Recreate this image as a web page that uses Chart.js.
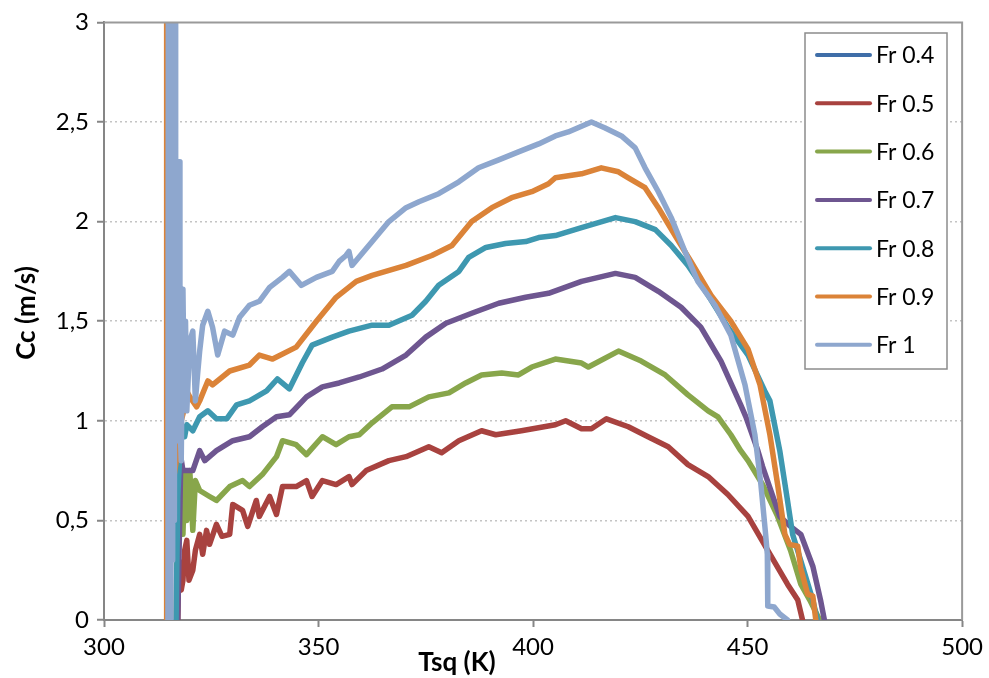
<!DOCTYPE html>
<html>
<head>
<meta charset="utf-8">
<script src="https://cdn.jsdelivr.net/npm/chart.js@4.4.1/dist/chart.umd.min.js"></script>
<style>
  html, body { margin: 0; padding: 0; background: #fff; }
  #wrap { width: 989px; height: 678px; }
</style>
</head>
<body>
<div id="wrap"><canvas id="cc" width="989" height="678"></canvas></div>
<script>
// Series labels and colours (Excel 2007 palette)
const seriesNames = ['Fr 0.4', 'Fr 0.5', 'Fr 0.6', 'Fr 0.7', 'Fr 0.8', 'Fr 0.9', 'Fr 1'];
const seriesColors = ['#3F6EA8', '#A8423F', '#88A64B', '#6E5690', '#3E98B0', '#DB8338', '#8EA7CE'];

// x tick labels / y tick labels
const xTicks = [300, 350, 400, 450, 500];
const yTicks = [0, 0.5, 1, 1.5, 2, 2.5, 3];

// [Tsq (K), Cc (m/s)]
const fr04 = [];

const fr05 = [[317.2,0],[317.4,0.3],[318.0,0.15],[318.4,0.2],[318.8,0.35],[319.3,0.4],[319.8,0.2],[320.7,0.25],
  [321.3,0.35],[322.3,0.43],[323.0,0.33],[323.9,0.45],[324.6,0.38],[326.2,0.48],[327.5,0.42],[329.3,0.43],
  [330.0,0.58],[332.3,0.55],[333.5,0.47],[335.5,0.6],[336.2,0.52],[338.6,0.62],[340.2,0.53],
  [341.6,0.67],[344.8,0.67],[347.2,0.7],[348.5,0.62],[350.9,0.7],[354.1,0.68],[357.1,0.72],[357.8,0.68],
  [361.1,0.75],[366.4,0.8],[370.4,0.82],[375.7,0.87],[378.7,0.84],[382.7,0.9],[388.0,0.95],[391.3,0.93],
  [397.3,0.95],[405.2,0.98],[407.6,1.0],[411.3,0.96],[413.6,0.96],[417.1,1.01],[422.2,0.97],[426.8,0.92],
  [431.5,0.87],[436.1,0.78],[440.8,0.72],[445.4,0.63],[450.1,0.52],[454.7,0.35],[459.3,0.18],[461.7,0.1],[462.8,0]];

const fr06 = [[316.8,0],[317.2,0.6],[317.5,0.45],[317.9,0.72],[318.4,0.43],[318.8,0.73],[319.3,0.5],[320.0,0.75],
  [320.7,0.45],[321.3,0.7],[322.3,0.65],[324.6,0.62],[326.2,0.6],[329.3,0.67],[332.3,0.7],[333.9,0.67],
  [336.9,0.73],[340.2,0.82],[341.6,0.9],[344.8,0.88],[347.2,0.83],[350.9,0.92],[354.1,0.88],[357.1,0.92],
  [359.5,0.93],[362.5,0.99],[367.1,1.07],[371.1,1.07],[375.7,1.12],[380.4,1.14],[384.3,1.19],[388.0,1.23],
  [392.7,1.24],[396.6,1.23],[399.7,1.27],[405.2,1.31],[411.3,1.29],[412.9,1.27],[419.9,1.35],[425.2,1.3],
  [430.8,1.23],[436.1,1.13],[440.8,1.05],[443.1,1.02],[446.1,0.93],[448.4,0.85],[450.1,0.8],[453.5,0.68],
  [457.0,0.52],[460.0,0.35],[462.4,0.18],[464.5,0.1],[466.8,0]];

const fr07 = [[317.2,0],[317.7,0.57],[317.9,0.82],[318.4,0.75],[320.7,0.75],[322.3,0.85],[323.5,0.8],[326.2,0.85],
  [330.0,0.9],[333.9,0.92],[336.9,0.97],[340.2,1.02],[343.2,1.03],[347.2,1.12],[350.9,1.17],[354.8,1.19],
  [359.5,1.22],[364.8,1.26],[370.4,1.33],[375.0,1.42],[379.7,1.49],[385.7,1.54],[392.0,1.59],[398.3,1.62],
  [403.6,1.64],[411.3,1.7],[419.2,1.74],[423.8,1.72],[429.2,1.65],[434.5,1.57],[439.1,1.47],[443.8,1.3],
  [448.4,1.08],[449.6,1.02],[452.4,0.85],[453.5,0.77],[457.5,0.52],[460.0,0.47],[462.4,0.43],[465.2,0.27],
  [467.0,0.1],[467.9,0]];

const fr08 = [[316.8,0],[317.2,0.62],[317.7,0.85],[318.4,0.97],[318.8,0.92],[319.3,0.98],[320.7,0.95],[322.3,1.02],
  [324.2,1.05],[326.2,1.01],[328.6,1.01],[330.9,1.08],[333.9,1.1],[337.9,1.15],[340.4,1.21],[343.2,1.16],
  [346.2,1.29],[348.5,1.38],[353.2,1.42],[357.1,1.45],[362.5,1.48],[366.4,1.48],[371.8,1.53],[375.0,1.6],
  [378.0,1.68],[382.7,1.75],[385.0,1.82],[389.0,1.87],[393.6,1.89],[398.3,1.9],[401.3,1.92],[405.2,1.93],
  [411.3,1.97],[419.2,2.02],[423.8,2.0],[428.5,1.96],[432.2,1.88],[436.1,1.78],[440.8,1.63],[445.4,1.47],
  [450.1,1.33],[454.0,1.15],[455.2,1.1],[457.5,0.85],[459.3,0.6],[460.5,0.43],[462.8,0.27],[465.2,0.1],[466.3,0]];

const fr09 = [[314.6,0],[314.6,3.2],[314.8,0.5],[317.2,0.85],[318.0,1.0],[318.6,1.05],[319.3,1.15],[320.0,1.12],
  [321.6,1.07],[322.3,1.1],[324.2,1.2],[325.3,1.18],[329.3,1.25],[333.9,1.28],[336.2,1.33],[339.3,1.31],
  [344.8,1.37],[349.5,1.5],[354.1,1.62],[358.8,1.7],[362.5,1.73],[370.4,1.78],[376.4,1.83],[381.1,1.88],
  [385.7,2.0],[390.4,2.07],[395.0,2.12],[399.7,2.15],[403.6,2.19],[405.2,2.22],[411.3,2.24],[415.9,2.27],
  [419.9,2.25],[422.2,2.22],[426.1,2.17],[429.2,2.07],[433.1,1.93],[436.8,1.8],[441.5,1.63],[446.1,1.5],
  [450.1,1.36],[452.9,1.18],[455.2,0.93],[457.0,0.68],[458.7,0.43],[459.8,0.38],[461.7,0.37],[462.4,0.26],
  [464.0,0.13],[465.2,0.12],[465.9,0]];

const fr10 = [[314.9,0],[315.0,3.3],[315.2,0],[315.4,3.3],[315.6,0],[315.8,3.3],[316.0,0.3],[316.2,3.3],
  [316.4,0.5],[316.6,3.3],[316.7,2.3],[317.0,0.9],[317.2,2.3],[317.5,2.3],[317.7,1.0],[318.0,0.8],
  [318.4,1.66],[318.7,1.1],[319.0,1.5],[319.3,1.05],[320.0,1.4],
  [320.7,1.45],[321.3,1.1],[321.8,1.23],[322.3,1.35],[323.0,1.48],[324.2,1.55],[325.3,1.47],[326.5,1.33],
  [328.1,1.45],[330.0,1.43],[331.6,1.52],[333.9,1.58],[336.2,1.6],[338.6,1.67],[341.6,1.72],[343.2,1.75],
  [346.0,1.68],[349.5,1.72],[353.2,1.75],[354.8,1.8],[356.4,1.83],[357.1,1.85],[357.8,1.78],[362.5,1.9],
  [366.4,2.0],[370.4,2.07],[373.4,2.1],[378.0,2.14],[382.7,2.2],[387.3,2.27],[392.0,2.31],[396.6,2.35],
  [401.3,2.39],[405.2,2.43],[408.2,2.45],[413.6,2.5],[416.8,2.47],[420.6,2.43],[423.8,2.37],[426.1,2.27],
  [429.2,2.15],[432.2,2.02],[435.4,1.85],[438.4,1.7],[442.4,1.58],[446.1,1.43],[449.4,1.18],[451.7,0.93],
  [453.1,0.68],[454.2,0.43],[454.6,0.33],[454.7,0.07],[456.2,0.065],[457.5,0.03],[459.3,0]];

const allSeries = [fr04, fr05, fr06, fr07, fr08, fr09, fr10];

const FONT = 'Lato, "Open Sans", sans-serif';

// legend box and axis titles drawn by hand, Excel-style
const excelBits = {
  id: 'excelBits',
  afterDraw(chart) {
    const ctx = chart.ctx;
    const a = chart.chartArea;
    ctx.save();
    // top / right frame of the plot area
    ctx.strokeStyle = '#9a9a9a';
    ctx.lineWidth = 2;
    ctx.beginPath();
    ctx.moveTo(a.left, a.top);
    ctx.lineTo(a.right, a.top);
    ctx.lineTo(a.right, a.bottom);
    ctx.stroke();

    // legend
    const bx = 805, by = 33, bw = 142, bh = 336;
    ctx.fillStyle = '#fff';
    ctx.fillRect(bx, by, bw, bh);
    ctx.strokeStyle = '#8c8c8c';
    ctx.lineWidth = 1.5;
    ctx.strokeRect(bx, by, bw, bh);
    ctx.font = '23px ' + FONT;
    ctx.textBaseline = 'middle';
    ctx.textAlign = 'left';
    seriesNames.forEach((name, i) => {
      const y = 55 + i * 48.3;
      ctx.strokeStyle = seriesColors[i];
      ctx.lineWidth = 4;
      ctx.lineCap = 'round';
      ctx.beginPath();
      ctx.moveTo(817, y);
      ctx.lineTo(870, y);
      ctx.stroke();
      ctx.fillStyle = '#000';
      ctx.fillText(name, 876, y + 1);
    });

    // axis titles
    ctx.font = 'bold 26px ' + FONT;
    ctx.fillStyle = '#000';
    ctx.textAlign = 'center';
    ctx.fillText('Tsq (K)', 457, 663);
    ctx.translate(27, 313);
    ctx.rotate(-Math.PI / 2);
    ctx.fillText('Cc (m/s)', 0, 0);
    ctx.restore();
  }
};

const datasets = allSeries.map((pts, i) => ({
  label: seriesNames[i],
  data: pts.map(p => ({ x: p[0], y: p[1] })),
  borderColor: seriesColors[i],
  backgroundColor: seriesColors[i],
  borderWidth: 5.5,
  pointRadius: 0,
  tension: 0,
  borderJoinStyle: 'round',
  borderCapStyle: 'round',
  order: seriesNames.length - 1 - i
}));

new Chart(document.getElementById('cc'), {
  type: 'line',
  data: { datasets: datasets },
  options: {
    responsive: false,
    animation: false,
    devicePixelRatio: 1,
    layout: { padding: { left: 0, top: 20, right: 24, bottom: 0 } },
    plugins: { legend: { display: false }, tooltip: { enabled: false } },
    scales: {
      x: {
        type: 'linear',
        min: xTicks[0],
        max: xTicks[xTicks.length - 1],
        afterBuildTicks: (s) => { s.ticks = xTicks.map(v => ({ value: v })); },
        afterFit: (s) => { s.height = 58; },
        ticks: { color: '#000', font: { family: FONT, size: 24 }, padding: 6, maxRotation: 0 },
        grid: { drawOnChartArea: false, drawTicks: true, tickLength: 7, tickColor: '#868686', tickWidth: 2 },
        border: { color: '#868686', width: 2 }
      },
      y: {
        min: yTicks[0],
        max: yTicks[yTicks.length - 1],
        afterBuildTicks: (s) => { s.ticks = yTicks.map(v => ({ value: v })); },
        afterFit: (s) => { s.width = 104; },
        ticks: {
          color: '#000', font: { family: FONT, size: 24 }, padding: 8,
          callback: (v) => String(v).replace('.', ',')
        },
        grid: {
          color: (c) => (c.tick && (c.tick.value === 0 || c.tick.value === 3)) ? 'rgba(0,0,0,0)' : '#c4c4c4',
          lineWidth: 1.5,
          drawTicks: true, tickLength: 7, tickColor: '#868686', tickWidth: 2,
          tickBorderDash: [], tickBorderDashOffset: 0
        },
        border: { color: '#868686', width: 2, dash: [2, 3] }
      }
    }
  },
  plugins: [excelBits]
});
</script>
</body>
</html>
